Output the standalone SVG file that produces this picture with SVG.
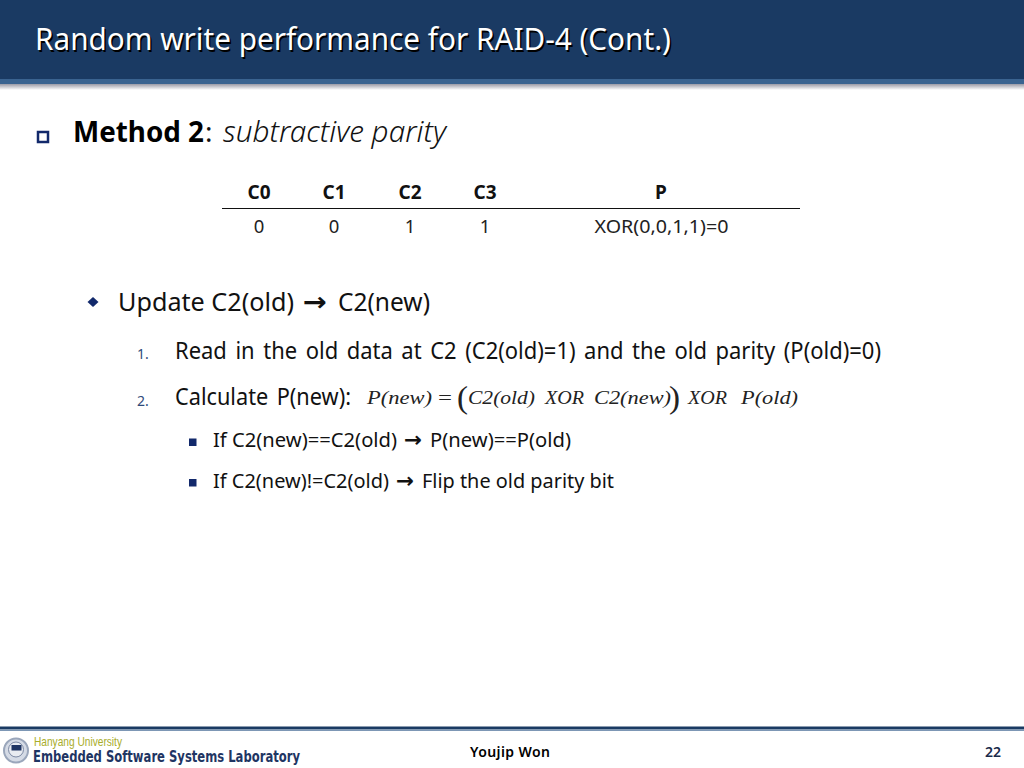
<svg xmlns="http://www.w3.org/2000/svg" width="1024" height="768" viewBox="0 0 1024 768">
<style>
text{font-family:"Noto Sans","Open Sans",sans-serif;fill:#111}
.m{font-family:"Liberation Serif",serif;font-style:italic;font-size:19px;fill:#222}
.p{font-family:"Liberation Serif",serif;font-size:31px;fill:#222}
.h{font-size:19px;font-weight:700;text-anchor:middle}
.c{font-size:18.500px;text-anchor:middle;fill:#222}
.l2{font-size:25px}
.l3{font-size:23px;word-spacing:3px}
.l4{font-size:20px}
.a{font-family:"DejaVu Sans",sans-serif;font-weight:700}
.n{font-size:14px;fill:#2f4a7a}
.b{fill:#12296b}
</style>
<defs><linearGradient id="sh" x1="0" y1="0" x2="0" y2="1"><stop offset="0" stop-color="#9a9aa6"/><stop offset="1" stop-color="#fff"/></linearGradient></defs>
<rect width="1024" height="768" fill="#fff"/>
<g id="header">
<rect x="0" y="84" width="1024" height="6" fill="url(#sh)"/>
<rect x="0" y="0" width="1024" height="79" fill="#1a3a63"/>
<rect x="0" y="79" width="1024" height="5" fill="#3a6390"/>
<text x="36.500" y="51.500" font-size="31.500" textLength="636" lengthAdjust="spacingAndGlyphs" style="fill:#000">Random write performance for RAID-4 (Cont.)</text>
<text x="35" y="50" font-size="31.500" textLength="636" lengthAdjust="spacingAndGlyphs" style="fill:#fff">Random write performance for RAID-4 (Cont.)</text>
</g>
<g id="method">
<rect x="38" y="132" width="10" height="10" fill="#fff" stroke="#12296b" stroke-width="2.500"/>
<text x="73" y="142" font-size="28" font-weight="700" textLength="131" lengthAdjust="spacingAndGlyphs" style="fill:#000">Method 2</text>
<text x="205" y="142" font-size="28">:</text>
<text x="223" y="142" font-size="29" font-style="italic" font-weight="300" textLength="223" lengthAdjust="spacingAndGlyphs">subtractive parity</text>
</g>
<g id="table">
<line x1="222" y1="208.500" x2="800" y2="208.500" stroke="#111" stroke-width="1.200"/>
<text class="h" x="259" y="199">C0</text><text class="h" x="334" y="199">C1</text><text class="h" x="410" y="199">C2</text><text class="h" x="485" y="199">C3</text><text class="h" x="661" y="199">P</text>
<text class="c" x="259" y="233">0</text><text class="c" x="334" y="233">0</text><text class="c" x="410" y="233">1</text><text class="c" x="485" y="233">1</text>
<text class="c" x="661.500" y="233" textLength="134" lengthAdjust="spacingAndGlyphs">XOR(0,0,1,1)=0</text>
</g>
<g id="bullets">
<polygon class="b" points="93,297 98.500,302 93,307 87.500,302"/>
<text class="l2" x="118" y="311" textLength="176" lengthAdjust="spacingAndGlyphs">Update C2(old)</text>
<text class="a" x="303" y="311" font-size="26" textLength="24" lengthAdjust="spacingAndGlyphs">→</text>
<text class="l2" x="338" y="311" textLength="92" lengthAdjust="spacingAndGlyphs">C2(new)</text>
<text class="n" x="137" y="359">1.</text>
<text class="l3" x="175" y="359" textLength="706" lengthAdjust="spacingAndGlyphs">Read in the old data at C2 (C2(old)=1) and the old parity (P(old)=0)</text>
<text class="n" x="137" y="406">2.</text>
<text class="l3" x="175" y="405" textLength="176" lengthAdjust="spacingAndGlyphs">Calculate P(new):</text>
<text class="m" x="367" y="404" textLength="65" lengthAdjust="spacingAndGlyphs">P(new)</text>
<text class="m" x="438" y="404" style="font-style:normal" textLength="14" lengthAdjust="spacingAndGlyphs">=</text>
<text class="p" x="457" y="408" textLength="11" lengthAdjust="spacingAndGlyphs">(</text>
<text class="m" x="468" y="404" textLength="67" lengthAdjust="spacingAndGlyphs">C2(old)</text>
<text class="m" x="545" y="404" textLength="39" lengthAdjust="spacingAndGlyphs">XOR</text>
<text class="m" x="594" y="404" textLength="77" lengthAdjust="spacingAndGlyphs">C2(new)</text>
<text class="p" x="669" y="408" textLength="11" lengthAdjust="spacingAndGlyphs">)</text>
<text class="m" x="688" y="404" textLength="39" lengthAdjust="spacingAndGlyphs">XOR</text>
<text class="m" x="741" y="404" textLength="57" lengthAdjust="spacingAndGlyphs">P(old)</text>
<rect class="b" x="189" y="438.500" width="7.500" height="7.500"/>
<text class="l4" x="213" y="447" textLength="184" lengthAdjust="spacingAndGlyphs">If C2(new)==C2(old)</text>
<text class="a" x="404" y="447" font-size="21" textLength="18" lengthAdjust="spacingAndGlyphs">→</text>
<text class="l4" x="430" y="447" textLength="141" lengthAdjust="spacingAndGlyphs">P(new)==P(old)</text>
<rect class="b" x="189" y="479" width="7.500" height="7.500"/>
<text class="l4" x="213" y="488" textLength="176" lengthAdjust="spacingAndGlyphs">If C2(new)!=C2(old)</text>
<text class="a" x="396" y="488" font-size="21" textLength="18" lengthAdjust="spacingAndGlyphs">→</text>
<text class="l4" x="422" y="488" textLength="192" lengthAdjust="spacingAndGlyphs">Flip the old parity bit</text>
</g>
<g id="footer">
<rect x="0" y="726.500" width="1024" height="3" fill="#1a3a63"/>
<rect x="0" y="729.500" width="1024" height="1.500" fill="#7d97b5"/>
<circle cx="16" cy="750.500" r="12" fill="#d5dbe6" stroke="#9aa6bb" stroke-width="2"/>
<circle cx="16" cy="749.500" r="7.500" fill="#e8ebf1" stroke="#7b88a3" stroke-width="1"/>
<rect x="11.500" y="745" width="10" height="5.500" fill="#1f3563"/>
<text x="34" y="746" font-size="13" textLength="88" lengthAdjust="spacingAndGlyphs" style="font-family:'Liberation Sans',sans-serif;fill:#a8ad2a">Hanyang University</text>
<text x="33" y="762" font-size="15" font-weight="700" textLength="267" lengthAdjust="spacingAndGlyphs" style="font-family:'DejaVu Sans',sans-serif;fill:#1f3563">Embedded Software Systems Laboratory</text>
<text x="510" y="757" font-size="14" font-weight="600" text-anchor="middle" textLength="80" lengthAdjust="spacing" style="fill:#000">Youjip Won</text>
<text x="993" y="757" font-size="14" font-weight="600" text-anchor="middle" style="fill:#1a2a4a">22</text>
</g>
</svg>
